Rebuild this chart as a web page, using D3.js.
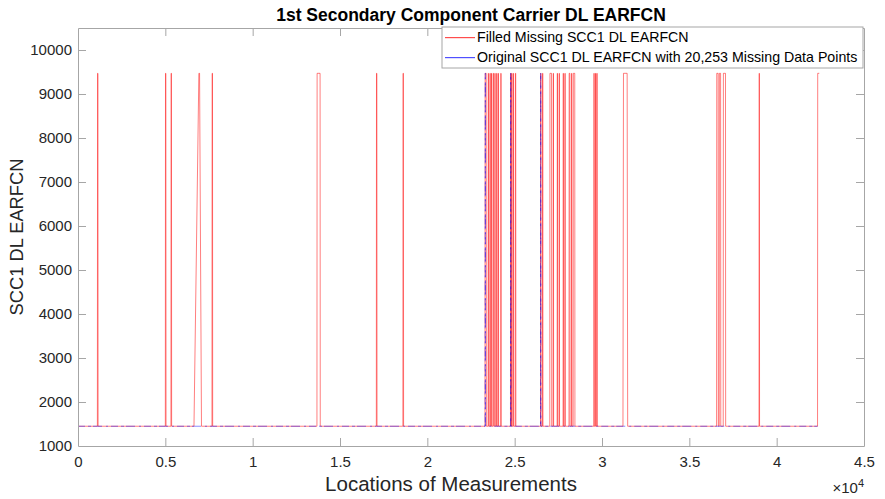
<!DOCTYPE html>
<html>
<head>
<meta charset="utf-8">
<script src="https://cdn.jsdelivr.net/npm/d3@7"></script>
<style>
  body { margin: 0; background: #fff; }
  text { font-family: "Liberation Sans", Arial, sans-serif; }
</style>
</head>
<body>
<div id="my_chart"></div>
<script>
// values
var lowValue = 1449;
var highValue = 9470;

// red "filled" spikes, each [last low x, first high x, last high x, first low x]
var filledSpikes = [
  [1110, 1120, 1140, 1150],
  [5000, 5010, 5030, 5040],
  [5320, 5330, 5350, 5360],
  [6640, 6920, 6960, 7070],
  [7670, 7680, 7700, 7710],
  [13680, 13690, 13860, 13870],
  [17080, 17090, 17110, 17120],
  [18600, 18610, 18630, 18640],
  [23300, 23310, 23370, 23380],
  [23480, 23490, 23500, 23510],
  [23580, 23590, 23600, 23610],
  [23660, 23670, 23680, 23690],
  [23760, 23770, 23790, 23800],
  [23860, 23870, 23880, 23890],
  [23960, 23970, 23980, 23990],
  [24050, 24060, 24070, 24080],
  [24200, 24210, 24220, 24230],
  [24760, 24770, 24780, 24790],
  [24820, 24830, 24840, 24850],
  [24910, 24920, 24930, 24940],
  [25030, 25040, 25060, 25070],
  [26480, 26490, 26500, 26510],
  [26590, 26600, 26610, 26620],
  [27010, 27020, 27110, 27120],
  [27200, 27210, 27220, 27230],
  [27430, 27440, 27450, 27460],
  [27540, 27550, 27560, 27570],
  [27770, 27780, 27790, 27800],
  [27870, 27880, 27890, 27900],
  [28110, 28120, 28160, 28170],
  [28250, 28260, 28270, 28280],
  [28350, 28360, 28440, 28450],
  [29530, 29540, 29550, 29560],
  [29620, 29630, 29640, 29650],
  [29700, 29710, 29720, 29730],
  [31200, 31230, 31440, 31470],
  [36560, 36570, 36650, 36660],
  [36710, 36720, 36790, 36800],
  [36940, 36950, 37070, 37080],
  [38990, 39000, 39010, 39020]
];
var filledEnd = [42340, 42350, 42440];   // rises at the very end and stops high

// blue "original" spikes, same layout
var originalSpikes = [
  [23310, 23318, 23322, 23330],
  [24765, 24772, 24776, 24784],
  [26482, 26490, 26494, 26502]
];
var originalEnd = 42340;

var xTicks = [0, 5000, 10000, 15000, 20000, 25000, 30000, 35000, 40000, 45000];
var xTickLabels = ["0", "0.5", "1", "1.5", "2", "2.5", "3", "3.5", "4", "4.5"];
var yTicks = [1000, 2000, 3000, 4000, 5000, 6000, 7000, 8000, 9000, 10000];

var seriesNames = ["Filled Missing SCC1 DL EARFCN",
                   "Original SCC1 DL EARFCN with 20,253 Missing Data Points"];

// set the dimensions and margins of the graph
var margin = {top: 28, right: 21, bottom: 53, left: 78},
    width = 885 - margin.left - margin.right,
    height = 499 - margin.top - margin.bottom;

var svg = d3.select("#my_chart")
  .append("svg")
    .attr("width", 885)
    .attr("height", 499)
  .append("g")
    .attr("transform", "translate(" + margin.left + "," + margin.top + ")");

var x = d3.scaleLinear().domain([0, 45000]).range([0, width]);
var y = d3.scaleLinear().domain([1000, 10500]).range([height, 0]);

// turn the spike tables into line points
function spikePoints(spikes) {
  var pts = [[0, lowValue]];
  spikes.forEach(function(s) {
    pts.push([s[0], lowValue], [s[1], highValue], [s[2], highValue], [s[3], lowValue]);
  });
  return pts;
}
var filledPoints = spikePoints(filledSpikes);
filledPoints.push([filledEnd[0], lowValue], [filledEnd[1], highValue], [filledEnd[2], highValue]);
var originalPoints = spikePoints(originalSpikes);
originalPoints.push([originalEnd, lowValue]);

var line = d3.line()
  .x(function(d) { return x(d[0]); })
  .y(function(d) { return y(d[1]); });

var axisColor = "#a6a6a6";
var textColor = "#262626";

// lines
svg.append("path")
  .datum(filledPoints)
  .attr("fill", "none")
  .attr("stroke", "#ff0000")
  .attr("stroke-opacity", 0.5)
  .attr("stroke-width", 1)
  .attr("d", line);

svg.append("path")
  .datum(originalPoints)
  .attr("fill", "none")
  .attr("stroke", "#0000ff")
  .attr("stroke-opacity", 0.45)
  .attr("stroke-width", 1)
  .attr("stroke-dasharray", "7,3,3,2,9,4,2,3")
  .attr("d", line);

// axes, ticks pointing inward like the original
var xAxis = svg.append("g")
  .attr("transform", "translate(0," + height + ")")
  .call(d3.axisBottom(x).tickValues(xTicks).tickSizeInner(-8).tickSizeOuter(0)
    .tickFormat(function(d, i) { return xTickLabels[i]; }));
var yAxis = svg.append("g")
  .call(d3.axisLeft(y).tickValues(yTicks).tickSizeInner(-8).tickSizeOuter(0)
    .tickFormat(d3.format("d")));
var xTop = svg.append("g")
  .call(d3.axisTop(x).tickValues(xTicks).tickSizeInner(-8).tickSizeOuter(0).tickFormat(""));
var yRight = svg.append("g")
  .attr("transform", "translate(" + width + ",0)")
  .call(d3.axisRight(y).tickValues(yTicks).tickSizeInner(-8).tickSizeOuter(0).tickFormat(""));

[xAxis, yAxis, xTop, yRight].forEach(function(a) {
  a.select(".domain").attr("stroke", axisColor);
  a.selectAll(".tick line").attr("stroke", axisColor);
});
xAxis.selectAll(".tick line").filter(function(d) { return d == 0 || d == 45000; }).remove();
xTop.selectAll(".tick line").filter(function(d) { return d == 0 || d == 45000; }).remove();
yAxis.selectAll(".tick line").filter(function(d) { return d == 1000; }).remove();
yRight.selectAll(".tick line").filter(function(d) { return d == 1000; }).remove();

xAxis.selectAll(".tick text")
  .attr("y", 10)
  .style("font-size", "15px")
  .attr("fill", textColor);
yAxis.selectAll(".tick text")
  .attr("x", -6)
  .style("font-size", "15px")
  .attr("fill", textColor);

// exponent label
var expo = svg.append("text")
  .attr("x", width)
  .attr("y", height + 47)
  .attr("text-anchor", "end")
  .attr("fill", textColor)
  .style("font-size", "15px");
expo.append("tspan").text("\u00d710");
expo.append("tspan").attr("dy", -6).style("font-size", "11px").text("4");

// titles
svg.append("text")
  .attr("x", width / 2)
  .attr("y", -7)
  .attr("text-anchor", "middle")
  .attr("fill", "#000")
  .style("font-size", "17.5px")
  .style("font-weight", "bold")
  .text("1st Secondary Component Carrier DL EARFCN");

svg.append("text")
  .attr("x", width / 2 - 20)
  .attr("y", height + 45)
  .attr("text-anchor", "middle")
  .attr("fill", textColor)
  .style("font-size", "20.5px")
  .text("Locations of Measurements");

svg.append("text")
  .attr("transform", "translate(" + (-55) + "," + (height / 2) + ") rotate(-90)")
  .attr("text-anchor", "middle")
  .attr("fill", textColor)
  .style("font-size", "18.3px")
  .text("SCC1 DL EARFCN");

// legend
var legend = svg.append("g")
  .attr("transform", "translate(" + (width - 422) + "," + (-1) + ")");
legend.append("rect")
  .attr("width", 421)
  .attr("height", 41)
  .attr("fill", "#fff")
  .attr("stroke", axisColor);
var legendColors = ["#ff4d4d", "#5050ff"];
seriesNames.forEach(function(name, i) {
  legend.append("rect")
    .attr("x", 3)
    .attr("y", 10 + i * 20)
    .attr("width", 30)
    .attr("height", 1.2)
    .attr("fill", legendColors[i]);
  legend.append("text")
    .attr("x", 35)
    .attr("y", 10.5 + i * 20)
    .attr("dy", "0.35em")
    .attr("fill", "#000")
    .style("font-size", "14.2px")
    .text(name);
});
</script>
</body>
</html>
